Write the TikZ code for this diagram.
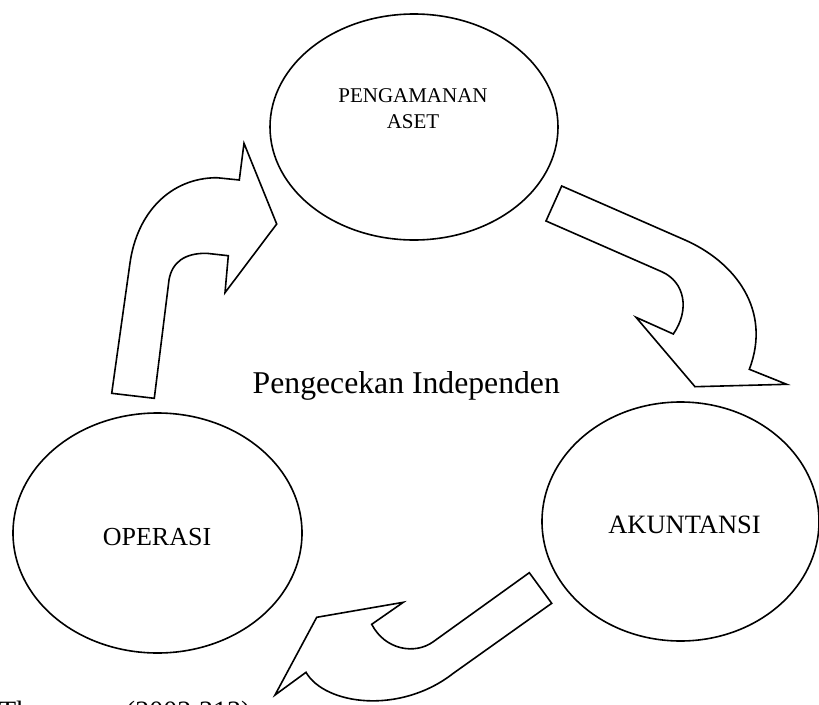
\documentclass[tikz,border=0pt]{standalone}
\usepackage{fontspec}
\setmainfont{Liberation Serif}
\begin{document}
\begin{tikzpicture}[x=1pt,y=-1pt,
  circ/.style={draw,line width=1.6pt},
  bigarrow/.style={draw,line width=1.6pt,line join=miter},
  lbl/.style={inner sep=0pt,anchor=base}]
\useasboundingbox (0,0) rectangle (819,704);
% ellipses
\draw[circ] (414,127) ellipse [x radius=144, y radius=113];
\draw[circ] (157.5,533) ellipse [x radius=144.5, y radius=120];
\draw[circ] (680.5,521.5) ellipse [x radius=138.5, y radius=119.5];
\coordinate (pa) at (414,127);
\coordinate (op) at (157.5,533);
\coordinate (ak) at (680.5,521.5);
% labels
\node[lbl,align=center,font=\fontsize{21}{26}\selectfont] (tpa) at (413,128) {PENGAMANAN\\ASET};
\node[lbl,font=\fontsize{26}{30}\selectfont] (top) at (157,545.7) {OPERASI};
\node[lbl,font=\fontsize{26.5}{30}\selectfont] (tak) at (684.5,533.3) {AKUNTANSI};
\node[inner sep=0pt,anchor=base west,font=\fontsize{31.7}{36}\selectfont] (cen) at (252.5,393.3) {Pengecekan Independen};
\node[inner sep=0pt,anchor=base west,font=\fontsize{28}{32}\selectfont] (src) at (-1,720) {Thompson (2002:313)};
% left arrow (OPERASI -> PENGAMANAN ASET)
\draw[bigarrow] (111.7,393.3) -- (154.3,398.3) -- (169,280)
  .. controls (172,262) and (185,253) .. (206.7,253.3) -- (228.3,255.7)
  -- (225,292.7) -- (276.7,224) -- (244,143.3) -- (239.3,180) -- (216.7,177.7)
  .. controls (170,178) and (137,213) .. (130,263) -- cycle;
% right arrow (PENGAMANAN ASET -> AKUNTANSI)
\draw[bigarrow] (561.7,186) -- (685,240)
  .. controls (735,262) and (772,310) .. (749.3,369.3)
  -- (786.7,384.3) -- (695,386.7) -- (636,317.3) -- (673.3,334)
  .. controls (690,310) and (685,282) .. (661.7,271.7)
  -- (546,221) -- cycle;
% bottom arrow (AKUNTANSI -> OPERASI)
\draw[bigarrow] (529.3,572.7) -- (551.7,603.3) -- (453.3,673.3)
  .. controls (400,715) and (325,705) .. (306,672.3)
  -- (275,695) -- (316.7,617.3) -- (403.3,602.3) -- (371.7,624.3)
  .. controls (385,650) and (415,655) .. (433.3,641.7) -- cycle;
\end{tikzpicture}
\end{document}
